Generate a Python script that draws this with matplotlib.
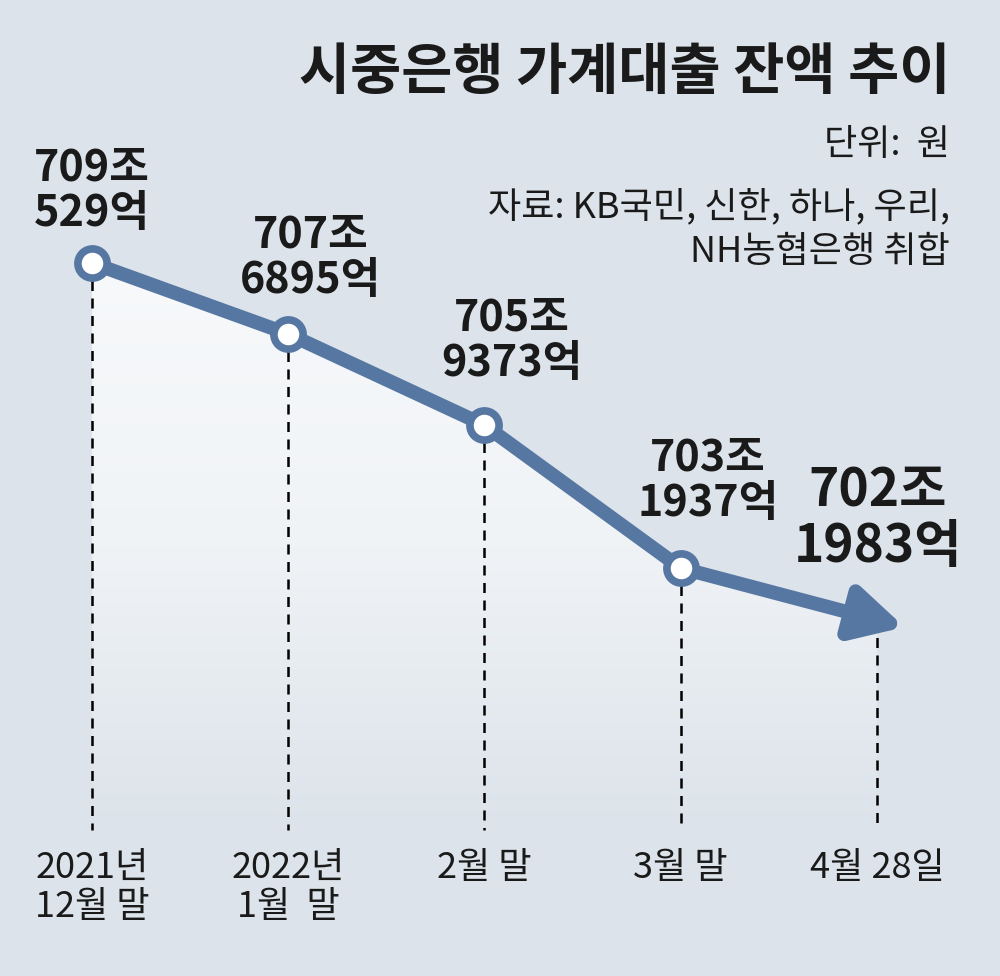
import numpy as np
import matplotlib
matplotlib.use('Agg')
import matplotlib.pyplot as plt
from matplotlib.patches import Polygon
from matplotlib.colors import LinearSegmentedColormap

plt.rcParams['font.family'] = ['Noto Sans CJK KR', 'DejaVu Sans']

# 데이터 (단위: 조 원)
categories = ['2021년\n12월 말', '2022년\n1월  말', '2월 말', '3월 말', '4월 28일']
balances = [709.0529, 707.6895, 705.9373, 703.1937, 702.1983]
value_labels = ['709조\n529억', '707조\n6895억', '705조\n9373억', '703조\n1937억', '702조\n1983억']

title = '시중은행 가계대출 잔액 추이'
unit_note = '단위:  원'
source_note = '자료: KB국민, 신한, 하나, 우리,\nNH농협은행 취합'

bg = '#dce3ea'
blue = '#5677a2'

fig = plt.figure(figsize=(10, 9.76), dpi=100)
fig.patch.set_facecolor(bg)
ax = fig.add_axes([0, 0, 1, 1])
ax.set_facecolor(bg)
ax.set_xlim(-0.469, 4.627)
ax.set_ylim(695.357, 714.105)
ax.axis('off')

x = np.arange(len(balances))
y = np.array(balances)
bottom = 698.16

# 선 아래 그라데이션 영역
poly = Polygon(list(zip(x, y)) + [(x[-1], bottom - 1), (x[0], bottom - 1)],
               closed=True, facecolor='none', edgecolor='none')
ax.add_patch(poly)
cmap = LinearSegmentedColormap.from_list('fade', ['#f7f9fb', '#f0f3f6', bg])
grad = np.linspace(0, 1, 256).reshape(-1, 1)
im = ax.imshow(grad, cmap=cmap, aspect='auto',
               extent=(x[0], x[-1], bottom, y.max()), origin='upper', zorder=1)
im.set_clip_path(poly)

# 점선
for xi, yi in zip(x, y):
    ax.plot([xi, xi], [yi, bottom], color='black', lw=1.8,
            linestyle=(0, (4, 3)), zorder=2)

# 선 + 화살표
ax.plot(x[:-1], y[:-1], color=blue, lw=10, solid_capstyle='butt', zorder=3)
tip_x = x[-1] + 0.14 * (x[-1] - x[-2])
tip_y = y[-1] + 0.14 * (y[-1] - y[-2])
ax.annotate('', xy=(tip_x, tip_y), xytext=(x[-2], y[-2]),
            arrowprops=dict(arrowstyle='-|>,head_length=3.0,head_width=1.6',
                            lw=10, color=blue, shrinkA=0, shrinkB=0),
            zorder=3)
ax.plot(x[:-1], y[:-1], 'o', markersize=21, markerfacecolor='white',
        markeredgecolor=blue, markeredgewidth=5.5, zorder=4)

# 값 라벨
offsets = [(0, 73), (22, 77), (27, 85), (27, 88), (1, 101)]
for i, (xi, yi) in enumerate(zip(x, y)):
    size = 37 if i == len(x) - 1 else 31
    ax.annotate(value_labels[i], xy=(xi, yi), xytext=offsets[i],
                textcoords='offset pixels', ha='center', va='center',
                fontsize=size, fontweight='bold', linespacing=1.05,
                color='#1a1a1a', zorder=5)

# x축 라벨
for xi, lab in zip(x, categories):
    ax.text(xi, 709.0529 - (850 - 263) / 52.06, lab, ha='center', va='top',
            fontsize=26, color='#1a1a1a', linespacing=1.1)

# 제목, 단위, 출처
fig.text(0.95, 0.925, title, ha='right', va='center', fontsize=40,
         fontweight='bold', color='#1a1a1a')
fig.text(0.95, 0.851, unit_note, ha='right', va='center', fontsize=26,
         color='#1a1a1a')
fig.text(0.95, 0.807, source_note, ha='right', va='top', fontsize=26,
         color='#1a1a1a', linespacing=1.3, multialignment='right')

fig.savefig('out.png', dpi=100, facecolor=bg)
